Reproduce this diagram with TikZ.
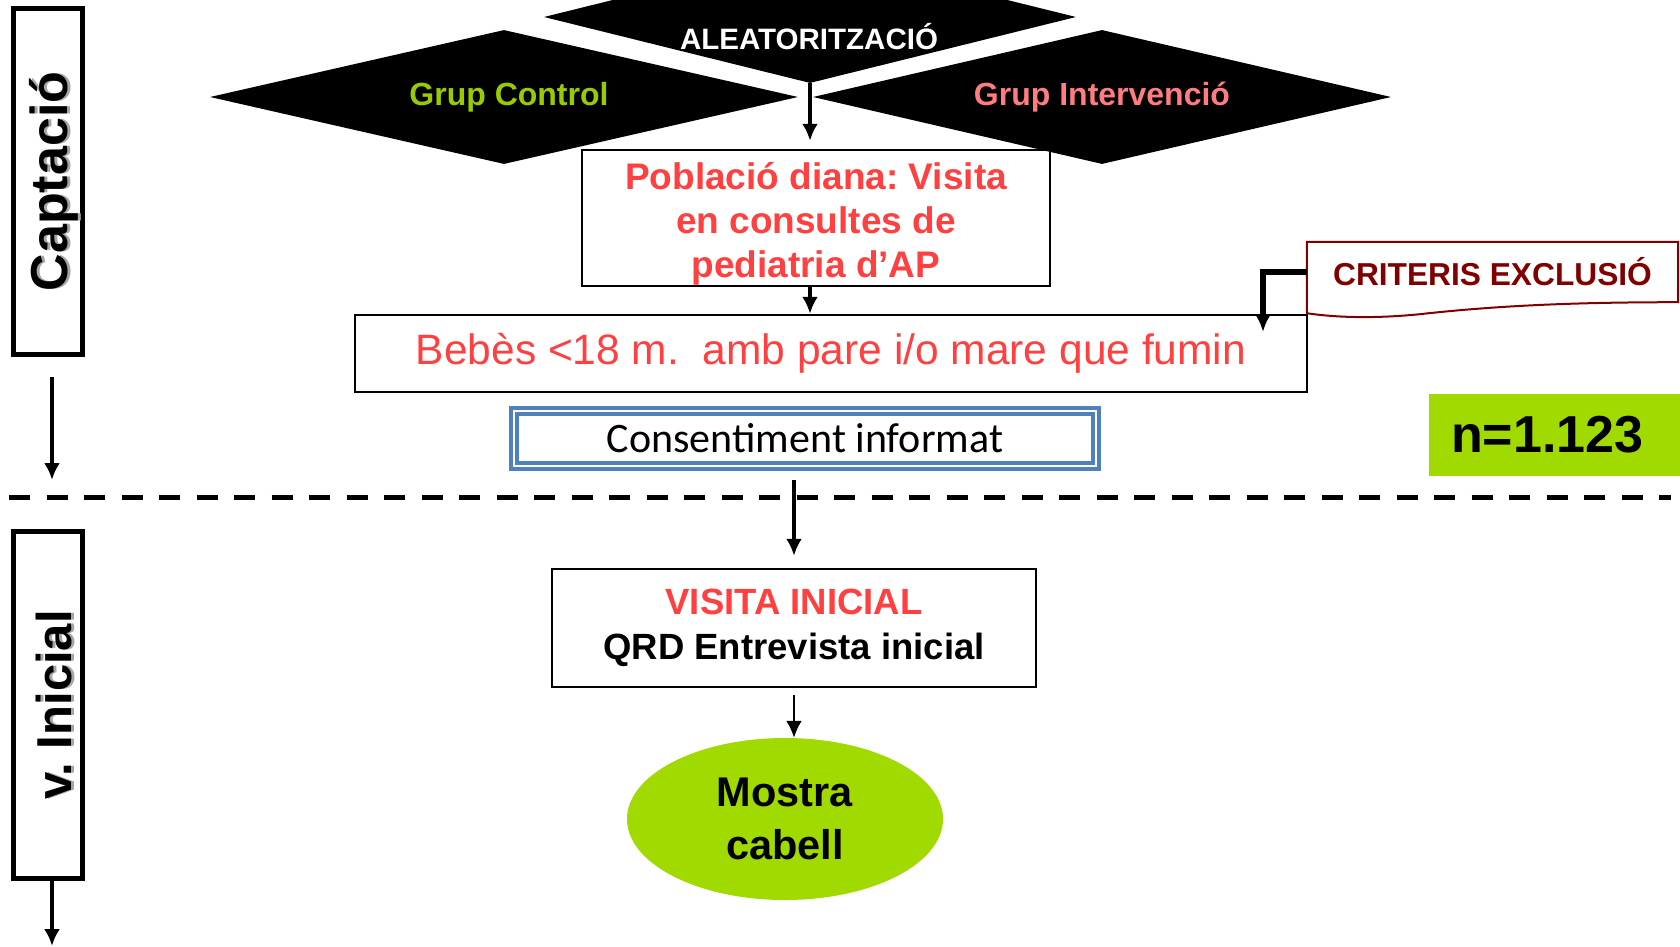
\documentclass[tikz,border=0pt]{standalone}
\usepackage{fontspec}
\setmainfont{Liberation Sans}
\newfontfamily\calibri{Carlito}
\usetikzlibrary{shapes.geometric,arrows.meta,calc}
\definecolor{grupgreen}{RGB}{153,204,0}
\definecolor{gruppink}{RGB}{255,124,128}
\definecolor{diared}{RGB}{255,64,64}
\definecolor{exclred}{RGB}{128,0,0}
\definecolor{consblue}{RGB}{79,129,189}
\definecolor{lima}{RGB}{160,218,0}
\newcommand\fsz[2]{\fontsize{#1}{#2}\selectfont}
\newcommand\ombra[1]{\rotatebox{90}{\raisebox{-7pt}[\height][\depth]{\makebox[0pt][l]{\raisebox{-3pt}{\color{black!35}#1}}#1}}}
\frenchspacing
\begin{document}
\begin{tikzpicture}[x=1pt,y=-1pt,
 rombe/.style={diamond,fill=black,inner sep=0pt,aspect=4.4,font=\fsz{32}{38}\bfseries},
 caixa/.style={draw,line width=2.4pt,inner sep=0pt,align=center},
 fase/.style={draw,line width=5pt,inner sep=0pt,minimum width=69pt,minimum height=346pt,font=\bfseries},
 fletxa/.style={line width=3.5pt,-{Latex[length=17pt,width=16pt]}}]
\useasboundingbox (0,0) rectangle (1680,947);
\clip (0,0) rectangle (1680,947);
\node[rombe,minimum width=532pt,minimum height=132pt] (alea) at (810,17) {};
\node[text=white,font=\fsz{29.5}{34}\bfseries] (aleatxt) at (809,37) {ALEATORITZACIÓ};
\node[rombe,minimum width=588pt,minimum height=134pt,text=grupgreen] (control) at (504,97) {\hspace{10pt}Grup Control};
\node[rombe,minimum width=578pt,minimum height=134pt,text=gruppink] (interv) at (1102,97) {Grup Intervenció};
\node[caixa,minimum width=468pt,minimum height=136pt,text=diared,font=\fsz{37}{44}\bfseries] (pob) at (816,218) {\raisebox{-7pt}[\height][\depth]{\begin{tabular}{@{}c@{}}Població diana: Visita\\en consultes de\\pediatria d’AP\end{tabular}}};
\node[caixa,minimum width=952pt,minimum height=77pt,text=diared,font=\fsz{42.5}{50}] (bebes) at (831,353.5) {Bebès <18 m.\ \ amb pare i/o mare que fumin};
\node[text=exclred,font=\fsz{31.7}{38}\bfseries,minimum width=371pt,minimum height=60pt,inner sep=0pt] (excl) at (1492.5,272) {CRITERIS EXCLUSIÓ};
\draw[exclred,line width=2pt] ($(excl.south west)+(0,11)$) -- (excl.north west) -- (excl.north east) -- (excl.south east) .. controls ($(excl.south east)+(-98,0)$) and ($(excl.south east)+(-178,3)$) .. ($(excl.south west)+(113,12)$) .. controls ($(excl.south west)+(73,16)$) and ($(excl.south west)+(33,16)$) .. ($(excl.south west)+(0,11)$) -- cycle;
\node[draw=consblue,line width=4pt,double=white,double distance=2pt,minimum width=582pt,minimum height=55pt,inner sep=0pt,font=\calibri\fsz{42}{50}] (cons) at (805,438.5) {Consentiment informat};
\node[fill=lima,anchor=west,inner xsep=22pt,inner ysep=0pt,text width=240pt,align=left,minimum height=82pt,font=\fsz{52}{60}\bfseries] (mida) at (1429,435) {n=1.123};
\draw[line width=5pt,dash pattern=on 21pt off 16.5pt] (9,497) -- (1671,497);
\node[caixa,minimum width=484pt,minimum height=118pt,font=\fsz{36.5}{45}\bfseries] (visita) at (794,628) {\textcolor{diared}{VISITA INICIAL}\\QRD Entrevista inicial};
\node[ellipse,fill=lima,minimum width=316pt,minimum height=162pt,inner sep=0pt,align=center,font=\fsz{41.5}{53}\bfseries] (mostra) at (785,819) {Mostra\\cabell};
\node[fase] (capt) at (48,181.5) {\fsz{52}{60}\ombra{Captació}};
\node[fase,minimum height=347pt] (vini) at (48,705) {\fsz{49}{58}\ombra{v. Inicial}};
\coordinate (captfi) at (52,480);
\coordinate (vinifi) at (52,946);
\coordinate (exclfi) at (1263,332);
\draw[fletxa,shorten <=20pt] (capt.south -| captfi) -- (captfi);
\draw[fletxa] (vini.south -| vinifi) -- (vinifi);
\draw[fletxa,shorten >=8pt] (alea.south) -- (alea.south |- pob.north);
\draw[fletxa] (alea.south |- pob.south) -- (alea.south |- bebes.north);
\draw[line width=6pt,-{Latex[length=16pt,width=14pt]}] (excl.west) -| (exclfi);
\draw[fletxa,shorten <=12pt,shorten >=12pt] (cons.south -| visita.north) -- (visita.north);
\draw[fletxa,line width=2.5pt,shorten <=7pt] (visita.south) -- (visita.south |- mostra.north);
\end{tikzpicture}
\end{document}
